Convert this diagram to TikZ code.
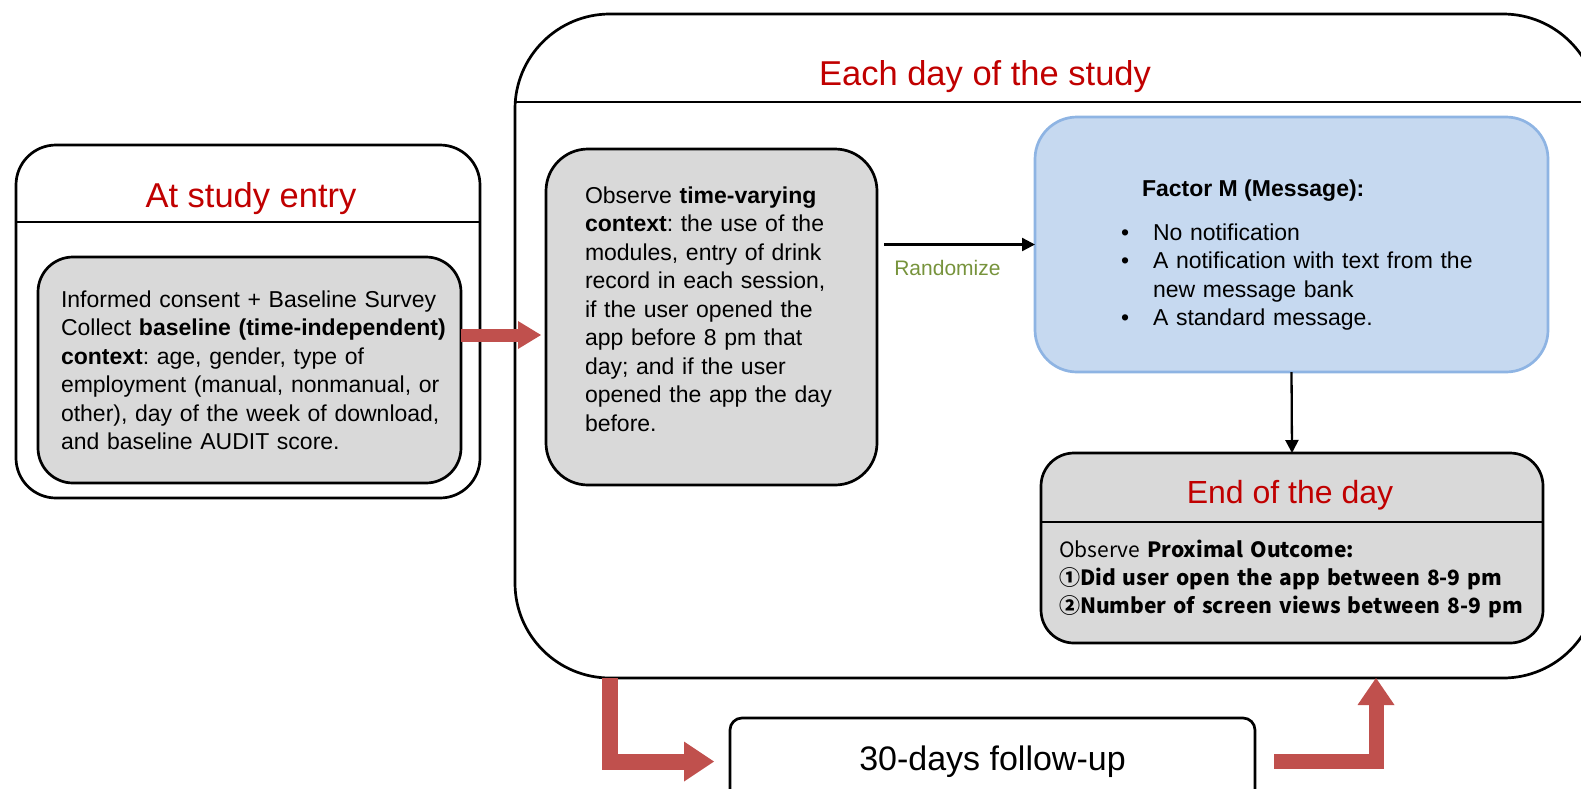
\documentclass[tikz,border=0pt]{standalone}
\usepackage{fontspec}
\setmainfont{Liberation Sans}
\newfontfamily\cjk{Noto Sans CJK SC}
\usetikzlibrary{arrows.meta,calc}
\definecolor{titlered}{HTML}{C00000}
\definecolor{randgreen}{HTML}{77933C}
\definecolor{grayfill}{HTML}{D9D9D9}
\definecolor{bluefill}{HTML}{C6D9F0}
\definecolor{blueline}{HTML}{8EB4E3}
\definecolor{redfill}{HTML}{C0504D}
\frenchspacing
\begin{document}
\begin{tikzpicture}[x=1pt,y=-1pt,
  rbox/.style={draw=black,line width=2.7pt,rounded corners=#1,inner sep=0pt,outer sep=0pt,anchor=north west},
  tnode/.style={inner sep=0pt,outer sep=0pt},
  body/.style={font=\fontsize{23}{28.5}\selectfont},
  titlefont/.style={font=\fontsize{34.5}{40}\selectfont,text=titlered},
  divider/.style={draw=black,line width=1.6pt},
  blackarrow/.style={draw=black,line width=2.3pt,-{Triangle[length=13pt,width=13pt]}},
  redarrow/.style={draw=redfill,line join=miter,line cap=butt}
]
\useasboundingbox (0,0) rectangle (1581,788);
\clip (0,0) rectangle (1581,788);

% boxes
\node[rbox=40, minimum width=464pt, minimum height=353pt] (entry) at (16,145) {};
\node[rbox=35, fill=grayfill, minimum width=423pt, minimum height=226pt] (entryin) at (38,257) {};
\node[rbox=95, minimum width=1083pt, minimum height=664pt] (big) at (515,14) {};
\node[rbox=42, fill=grayfill, minimum width=331pt, minimum height=336pt] (mid) at (546,149) {};
\node[rbox=42, draw=blueline, fill=bluefill, minimum width=513pt, minimum height=255pt] (blue) at (1035,117) {};
\node[rbox=33, fill=grayfill, minimum width=502pt, minimum height=190pt] (endd) at (1041,453) {};
\node[rbox=12, minimum width=525pt, minimum height=87pt, font=\fontsize{34}{40}\selectfont] (follow) at (730,718) {30-days follow-up};

% dividers
\draw[divider] (entry.west |- 0,222) -- (entry.east |- 0,222);
\draw[divider] (big.west |- 0,102) -- (big.east |- 0,102);
\draw[divider] (endd.west |- 0,522) -- (endd.east |- 0,522);

% titles
\node[tnode, titlefont, anchor=base] (entrytitle) at (251,207) {At study entry};
\node[tnode, titlefont, anchor=base] (bigtitle) at (985,85) {Each day of the study};
\node[tnode, font=\fontsize{32}{38}\selectfont, text=titlered, anchor=base] (endtitle) at (1290,503) {End of the day};

% texts
\node[tnode, body, anchor=base west, text width=400pt, align=left] (entrytext) at (61,307)
  {Informed consent + Baseline Survey\\
   Collect \textbf{baseline (time-independent)}\\
   \textbf{context}: age, gender, type of\\
   employment (manual, nonmanual, or\\
   other), day of the week of download,\\
   and baseline AUDIT score.};
\node[tnode, body, anchor=base west, text width=265pt, align=left] (midtext) at (585,203)
  {Observe \textbf{time-varying}\\
   \textbf{context}: the use of the\\
   modules, entry of drink\\
   record in each session,\\
   if the user opened the\\
   app before 8 pm that\\
   day; and if the user\\
   opened the app the day\\
   before.};
\node[tnode, body, anchor=base west] (bluehead) at (1142,196) {\textbf{Factor M (Message):}};
\node[tnode, body, anchor=base west, text width=380pt, align=left] (bluelist) at (1121,240)
  {\makebox[32pt][l]{•}No notification\\
   \makebox[32pt][l]{•}A notification with text from the\\
   \hspace*{32pt}new message bank\\
   \makebox[32pt][l]{•}A standard message.};
\node[tnode, anchor=base west, text width=480pt, align=left, font=\cjk\fontsize{21}{28}\selectfont] (endtext) at (1059,557)
  {Observe \textbf{Proximal Outcome:}\\
   \textbf{①Did user open the app between 8-9 pm}\\
   \textbf{②Number of screen views between 8-9 pm}};

% black connectors
\draw[blackarrow] ([xshift=7pt]mid.east |- blue.west) -- node[pos=0.42, below=16pt, tnode, text=randgreen, font=\fontsize{21}{25}\selectfont] (randlabel) {Randomize} (blue.west);
\draw[blackarrow] (blue.south) -- (endd.north);

% red block arrows
\draw[redarrow, line width=13pt, -{Triangle[length=23pt,width=28pt,line width=0pt]}]
  (entryin.east |- 0,335) -- ([xshift=-5pt]mid.west |- 0,335);
\draw[redarrow, line width=16pt, -{Triangle[length=30pt,width=40pt,line width=0pt]}]
  (big.south -| 610,0) |- ([xshift=-16pt]follow.west);
\draw[redarrow, line width=15pt, -{Triangle[length=27pt,width=37pt,line width=0pt]}]
  ([xshift=19pt]follow.east) -| (big.south -| 1376,0);
\end{tikzpicture}
\end{document}
